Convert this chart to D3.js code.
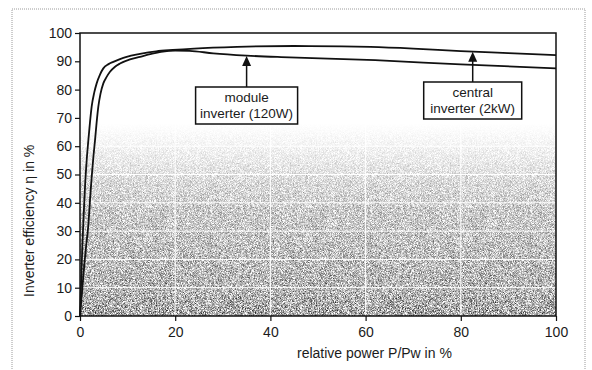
<!DOCTYPE html>
<html>
<head>
<meta charset="utf-8">
<script src="https://cdn.jsdelivr.net/npm/d3@7"></script>
<style>
  body { margin: 0; background: #fff; }
  text { font-family: "Liberation Sans", Arial, sans-serif; fill: #1b1b1b; }
</style>
</head>
<body>
<svg id="chart" width="592" height="370"></svg>
<script>
// efficiency curves (relative power %, efficiency %)
const centralPower = [0, 0.2, 0.5, 0.75, 1.05, 1.4, 1.75, 2.1, 2.45, 3, 3.5, 4.2, 4.9, 6, 7, 8.4, 9.8, 12.6, 16, 19.5, 24, 33, 45, 55, 61, 70, 80, 90, 100];
const centralEff   = [0, 10, 25, 35, 45.5, 55, 62, 68.5, 74, 79, 82.2, 85.3, 87.5, 89, 89.8, 90.8, 91.6, 92.6, 93.5, 94, 94.5, 95.1, 95.4, 95.3, 95.1, 94.5, 93.6, 92.9, 92.2];
const modulePower  = [0, 0.4, 0.9, 1.3, 1.75, 2.1, 2.45, 2.8, 3.15, 3.5, 3.85, 4.3, 4.9, 5.6, 6.3, 7.3, 8.4, 10.5, 12.6, 15, 17, 20, 23, 28, 35, 44, 62, 80, 100];
const moduleEff    = [0, 8, 18, 25, 32, 41, 49, 56, 62, 68.5, 74, 78.5, 82.2, 84.5, 86.3, 88, 89.2, 90.7, 91.6, 92.6, 93.3, 93.8, 93.7, 92.8, 92, 91.4, 90.4, 88.9, 87.5];

const xTicks = [0, 20, 40, 60, 80, 100];
const yTicks = [0, 10, 20, 30, 40, 50, 60, 70, 80, 90, 100];

// annotation boxes: label lines, power the arrow points at, efficiency at tip
const notes = [
  { lines: ['module', 'inverter (120W)'], p: 35, eff: 91.9 },
  { lines: ['central', 'inverter (2kW)'], p: 82.5, eff: 93.4 }
];

const svg = d3.select('#chart');

const x = d3.scaleLinear().domain([0, 100]).range([80, 556]);
const y = d3.scaleLinear().domain([0, 100]).range([316, 33]);

// figure border (dotted, as in the scan)
svg.append('rect')
  .attr('x', 12).attr('y', 9)
  .attr('width', 573).attr('height', 372)
  .attr('fill', 'none')
  .attr('stroke', '#9a9a9a')
  .attr('stroke-dasharray', '1,1');

const defs = svg.append('defs');

const grad = defs.append('linearGradient')
  .attr('id', 'shade')
  .attr('gradientUnits', 'userSpaceOnUse')
  .attr('x1', 0).attr('x2', 0)
  .attr('y1', y(0)).attr('y2', y(100));
[[0, 0.64], [8, 0.53], [25, 0.44], [38, 0.36], [47, 0.26], [55, 0.15], [62, 0.06], [68, 0]].forEach(s => {
  grad.append('stop')
    .attr('offset', s[0] + '%')
    .attr('stop-color', '#000')
    .attr('stop-opacity', s[1]);
});

// break the smooth shade up into grain
const grain = defs.append('filter')
  .attr('id', 'grain')
  .attr('x', 0).attr('y', 0).attr('width', 1).attr('height', 1);
grain.append('feTurbulence')
  .attr('type', 'fractalNoise')
  .attr('baseFrequency', 1.6)
  .attr('numOctaves', 2)
  .attr('seed', 5)
  .attr('result', 'noise');
grain.append('feColorMatrix')
  .attr('in', 'noise')
  .attr('type', 'matrix')
  .attr('values', '0 0 0 0 0  0 0 0 0 0  0 0 0 0 0  1 0 0 0 0')
  .attr('result', 'na');
grain.append('feComposite')
  .attr('in', 'SourceGraphic').attr('in2', 'na')
  .attr('operator', 'arithmetic')
  .attr('k1', 2.6).attr('k2', -0.75).attr('k3', 0).attr('k4', 0)
  .attr('result', 'mix');
grain.append('feColorMatrix')
  .attr('in', 'mix')
  .attr('type', 'matrix')
  .attr('values', '0 0 0 0 0  0 0 0 0 0  0 0 0 0 0  0 0 0 1 0');

svg.append('rect')
  .attr('x', x(0)).attr('y', y(100))
  .attr('width', x(100) - x(0)).attr('height', y(0) - y(100))
  .attr('fill', 'url(#shade)')
  .attr('filter', 'url(#grain)');

// white grid lines showing through the shading
const grid = svg.append('g').attr('stroke', '#fff').attr('stroke-width', 1);
grid.selectAll('.hg')
  .data(yTicks.filter(d => d > 0 && d < 100))
  .enter().append('line')
  .attr('x1', x(0)).attr('x2', x(100))
  .attr('y1', d => y(d)).attr('y2', d => y(d));
grid.selectAll('.vg')
  .data(xTicks.filter(d => d > 0 && d < 100))
  .enter().append('line')
  .attr('y1', y(0)).attr('y2', y(100))
  .attr('x1', d => x(d)).attr('x2', d => x(d));

// axes
const yAxis = svg.append('g')
  .attr('transform', 'translate(' + x(0) + ',0)')
  .call(d3.axisLeft(y).tickValues(yTicks).tickSize(5).tickPadding(3));
const xAxis = svg.append('g')
  .attr('transform', 'translate(0,' + y(0) + ')')
  .call(d3.axisBottom(x).tickValues(xTicks).tickSize(5).tickPadding(6));
[yAxis, xAxis].forEach(a => {
  a.select('.domain').remove();
  a.selectAll('line').attr('stroke', '#111').attr('stroke-width', 1.2);
  a.selectAll('text')
    .style('font-family', '"Liberation Sans", Arial, sans-serif')
    .style('font-size', '14px')
    .attr('fill', '#1b1b1b');
});

// frame
svg.append('rect')
  .attr('x', x(0)).attr('y', y(100))
  .attr('width', x(100) - x(0)).attr('height', y(0) - y(100))
  .attr('fill', 'none')
  .attr('stroke', '#111')
  .attr('stroke-width', 1.5);

// curves
const line = d3.line()
  .x(d => x(d[0]))
  .y(d => y(d[1]))
  .curve(d3.curveMonotoneX);

[[centralPower, centralEff], [modulePower, moduleEff]].forEach(s => {
  svg.append('path')
    .datum(d3.zip(s[0], s[1]))
    .attr('fill', 'none')
    .attr('stroke', '#111')
    .attr('stroke-width', 1.8)
    .attr('d', line);
});

// annotations
const boxW = [102, 98];
const boxTop = [87, 82];
notes.forEach((n, i) => {
  const cx = x(n.p);
  const tip = y(n.eff);
  const g = svg.append('g');
  g.append('line')
    .attr('x1', cx).attr('x2', cx)
    .attr('y1', boxTop[i]).attr('y2', tip + 8)
    .attr('stroke', '#111').attr('stroke-width', 1.5);
  g.append('path')
    .attr('d', 'M' + cx + ',' + tip + 'L' + (cx + 4.5) + ',' + (tip + 10) + 'L' + (cx - 4.5) + ',' + (tip + 10) + 'Z')
    .attr('fill', '#111');
  g.append('rect')
    .attr('x', cx - boxW[i] / 2).attr('y', boxTop[i])
    .attr('width', boxW[i]).attr('height', 37)
    .attr('fill', '#fff')
    .attr('stroke', '#111')
    .attr('stroke-width', 1.5);
  g.selectAll('text')
    .data(n.lines)
    .enter().append('text')
    .attr('x', cx)
    .attr('y', (d, j) => boxTop[i] + 15 + j * 15.5)
    .attr('text-anchor', 'middle')
    .style('font-size', '13.5px')
    .text(d => d);
});

// axis titles
svg.append('text')
  .attr('x', 297).attr('y', 358)
  .style('font-size', '14px')
  .text('relative power P/Pw in %');

svg.append('text')
  .attr('transform', 'translate(34,297) rotate(-90)')
  .style('font-size', '14px')
  .text('Inverter efficiency \u03b7 in %');
</script>
</body>
</html>
